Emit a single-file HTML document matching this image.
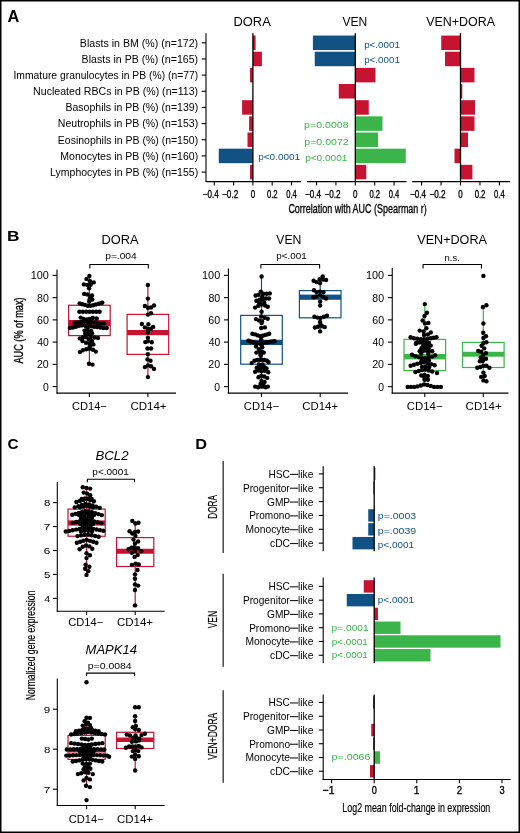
<!DOCTYPE html>
<html><head><meta charset="utf-8"><style>html,body{margin:0;padding:0;background:#fff}svg{display:block;will-change:transform}text{font-family:"Liberation Sans",sans-serif}</style></head>
<body><svg width="520" height="833" viewBox="0 0 520 833">
<rect x="0" y="0" width="520" height="833" fill="#fff"/>
<text x="7.44" y="21.65" font-size="15.6" font-weight="bold" textLength="11.79" lengthAdjust="spacingAndGlyphs">A</text>
<text x="233.44" y="26.3" font-size="12.5" textLength="37.34" lengthAdjust="spacingAndGlyphs">DORA</text>
<text x="342.45" y="26.3" font-size="12.5" textLength="24.79" lengthAdjust="spacingAndGlyphs">VEN</text>
<text x="426.2" y="26.3" font-size="12.5" textLength="68.83" lengthAdjust="spacingAndGlyphs">VEN+DORA</text>
<text x="79.83" y="46.6" font-size="10" textLength="118.33" lengthAdjust="spacingAndGlyphs">Blasts in BM (%) (n=172)</text>
<line x1="201.7" y1="42.8" x2="206" y2="42.8" stroke="#000" stroke-width="1.1"/>
<text x="81.63" y="62.76" font-size="10" textLength="116.53" lengthAdjust="spacingAndGlyphs">Blasts in PB (%) (n=165)</text>
<line x1="201.7" y1="58.96" x2="206" y2="58.96" stroke="#000" stroke-width="1.1"/>
<text x="13.45" y="78.92" font-size="10" textLength="184.69" lengthAdjust="spacingAndGlyphs">Immature granulocytes in PB (%) (n=77)</text>
<line x1="201.7" y1="75.12" x2="206" y2="75.12" stroke="#000" stroke-width="1.1"/>
<text x="33.13" y="95.08" font-size="10" textLength="165.02" lengthAdjust="spacingAndGlyphs">Nucleated RBCs in PB (%) (n=113)</text>
<line x1="201.7" y1="91.28" x2="206" y2="91.28" stroke="#000" stroke-width="1.1"/>
<text x="65.44" y="111.24" font-size="10" textLength="132.72" lengthAdjust="spacingAndGlyphs">Basophils in PB (%) (n=139)</text>
<line x1="201.7" y1="107.44" x2="206" y2="107.44" stroke="#000" stroke-width="1.1"/>
<text x="57.84" y="127.4" font-size="10" textLength="140.32" lengthAdjust="spacingAndGlyphs">Neutrophils in PB (%) (n=153)</text>
<line x1="201.7" y1="123.6" x2="206" y2="123.6" stroke="#000" stroke-width="1.1"/>
<text x="57.84" y="143.56" font-size="10" textLength="140.31" lengthAdjust="spacingAndGlyphs">Eosinophils in PB (%) (n=150)</text>
<line x1="201.7" y1="139.76" x2="206" y2="139.76" stroke="#000" stroke-width="1.1"/>
<text x="60.34" y="159.72" font-size="10" textLength="137.82" lengthAdjust="spacingAndGlyphs">Monocytes in PB (%) (n=160)</text>
<line x1="201.7" y1="155.92" x2="206" y2="155.92" stroke="#000" stroke-width="1.1"/>
<text x="50.14" y="175.88" font-size="10" textLength="148.01" lengthAdjust="spacingAndGlyphs">Lymphocytes in PB (%) (n=155)</text>
<line x1="201.7" y1="172.08" x2="206" y2="172.08" stroke="#000" stroke-width="1.1"/>
<line x1="206" y1="33.2" x2="206" y2="182.1" stroke="#000" stroke-width="1.1"/>
<rect x="252.9" y="35.55" width="2.7" height="14.5" fill="#c51331"/>
<rect x="252.9" y="51.71" width="9" height="14.5" fill="#c51331"/>
<rect x="250" y="67.87" width="2.9" height="14.5" fill="#c51331"/>
<rect x="242.1" y="100.19" width="10.8" height="14.5" fill="#c51331"/>
<rect x="249.1" y="116.35" width="3.8" height="14.5" fill="#c51331"/>
<rect x="247.5" y="132.51" width="5.4" height="14.5" fill="#c51331"/>
<rect x="218.75" y="148.67" width="34.15" height="14.5" fill="#125183"/>
<rect x="250" y="164.83" width="2.9" height="14.5" fill="#c51331"/>
<line x1="252.9" y1="33.2" x2="252.9" y2="181.6" stroke="#000" stroke-width="1.3"/>
<line x1="205.9" y1="181.6" x2="301" y2="181.6" stroke="#000" stroke-width="1.1"/>
<line x1="214.3" y1="181.6" x2="214.3" y2="185.4" stroke="#000" stroke-width="1.1"/>
<text x="202.8" y="197.6" font-size="10.6" textLength="15.93" lengthAdjust="spacingAndGlyphs" stroke="#000" stroke-width="0.35">−0.4</text>
<line x1="233.6" y1="181.6" x2="233.6" y2="185.4" stroke="#000" stroke-width="1.1"/>
<text x="222.1" y="197.6" font-size="10.6" textLength="16.11" lengthAdjust="spacingAndGlyphs" stroke="#000" stroke-width="0.35">−0.2</text>
<line x1="252.9" y1="181.6" x2="252.9" y2="185.4" stroke="#000" stroke-width="1.1"/>
<text x="250.69" y="197.6" font-size="10.6" textLength="4.42" lengthAdjust="spacingAndGlyphs" stroke="#000" stroke-width="0.35">0</text>
<line x1="272.2" y1="181.6" x2="272.2" y2="185.4" stroke="#000" stroke-width="1.1"/>
<text x="266.9" y="197.6" font-size="10.6" textLength="10.69" lengthAdjust="spacingAndGlyphs" stroke="#000" stroke-width="0.35">0.2</text>
<line x1="291.5" y1="181.6" x2="291.5" y2="185.4" stroke="#000" stroke-width="1.1"/>
<text x="286.2" y="197.6" font-size="10.6" textLength="10.52" lengthAdjust="spacingAndGlyphs" stroke="#000" stroke-width="0.35">0.4</text>
<rect x="312.9" y="35.55" width="42.4" height="14.5" fill="#125183"/>
<rect x="314.75" y="51.71" width="40.55" height="14.5" fill="#125183"/>
<rect x="355.3" y="67.87" width="20.2" height="14.5" fill="#c51331"/>
<rect x="338.75" y="84.03" width="16.55" height="14.5" fill="#c51331"/>
<rect x="355.3" y="100.19" width="13.45" height="14.5" fill="#c51331"/>
<rect x="355.3" y="116.35" width="27.2" height="14.5" fill="#3bb54a"/>
<rect x="355.3" y="132.51" width="22.7" height="14.5" fill="#3bb54a"/>
<rect x="355.3" y="148.67" width="50.45" height="14.5" fill="#3bb54a"/>
<rect x="355.3" y="164.83" width="10.95" height="14.5" fill="#c51331"/>
<line x1="355.3" y1="33.2" x2="355.3" y2="181.6" stroke="#000" stroke-width="1.3"/>
<line x1="306.9" y1="181.6" x2="406.5" y2="181.6" stroke="#000" stroke-width="1.1"/>
<line x1="316.54" y1="181.6" x2="316.54" y2="185.4" stroke="#000" stroke-width="1.1"/>
<text x="305.04" y="197.6" font-size="10.6" textLength="15.93" lengthAdjust="spacingAndGlyphs" stroke="#000" stroke-width="0.35">−0.4</text>
<line x1="335.92" y1="181.6" x2="335.92" y2="185.4" stroke="#000" stroke-width="1.1"/>
<text x="324.42" y="197.6" font-size="10.6" textLength="16.11" lengthAdjust="spacingAndGlyphs" stroke="#000" stroke-width="0.35">−0.2</text>
<line x1="355.3" y1="181.6" x2="355.3" y2="185.4" stroke="#000" stroke-width="1.1"/>
<text x="353.09" y="197.6" font-size="10.6" textLength="4.42" lengthAdjust="spacingAndGlyphs" stroke="#000" stroke-width="0.35">0</text>
<line x1="374.68" y1="181.6" x2="374.68" y2="185.4" stroke="#000" stroke-width="1.1"/>
<text x="369.38" y="197.6" font-size="10.6" textLength="10.69" lengthAdjust="spacingAndGlyphs" stroke="#000" stroke-width="0.35">0.2</text>
<line x1="394.06" y1="181.6" x2="394.06" y2="185.4" stroke="#000" stroke-width="1.1"/>
<text x="388.76" y="197.6" font-size="10.6" textLength="10.52" lengthAdjust="spacingAndGlyphs" stroke="#000" stroke-width="0.35">0.4</text>
<rect x="441.25" y="35.55" width="19.25" height="14.5" fill="#c51331"/>
<rect x="445" y="51.71" width="15.5" height="14.5" fill="#c51331"/>
<rect x="460.5" y="67.87" width="14" height="14.5" fill="#c51331"/>
<rect x="460.5" y="84.03" width="1.8" height="14.5" fill="#c51331"/>
<rect x="460.5" y="100.19" width="14.5" height="14.5" fill="#c51331"/>
<rect x="460.5" y="116.35" width="14" height="14.5" fill="#c51331"/>
<rect x="460.5" y="132.51" width="7.5" height="14.5" fill="#c51331"/>
<rect x="454.5" y="148.67" width="6" height="14.5" fill="#c51331"/>
<rect x="460.5" y="164.83" width="11.9" height="14.5" fill="#c51331"/>
<line x1="460.5" y1="33.2" x2="460.5" y2="181.6" stroke="#000" stroke-width="1.3"/>
<line x1="412.25" y1="181.6" x2="510.2" y2="181.6" stroke="#000" stroke-width="1.1"/>
<line x1="421.6" y1="181.6" x2="421.6" y2="185.4" stroke="#000" stroke-width="1.1"/>
<text x="410.1" y="197.6" font-size="10.6" textLength="15.93" lengthAdjust="spacingAndGlyphs" stroke="#000" stroke-width="0.35">−0.4</text>
<line x1="441.05" y1="181.6" x2="441.05" y2="185.4" stroke="#000" stroke-width="1.1"/>
<text x="429.55" y="197.6" font-size="10.6" textLength="16.11" lengthAdjust="spacingAndGlyphs" stroke="#000" stroke-width="0.35">−0.2</text>
<line x1="460.5" y1="181.6" x2="460.5" y2="185.4" stroke="#000" stroke-width="1.1"/>
<text x="458.29" y="197.6" font-size="10.6" textLength="4.42" lengthAdjust="spacingAndGlyphs" stroke="#000" stroke-width="0.35">0</text>
<line x1="479.95" y1="181.6" x2="479.95" y2="185.4" stroke="#000" stroke-width="1.1"/>
<text x="474.65" y="197.6" font-size="10.6" textLength="10.69" lengthAdjust="spacingAndGlyphs" stroke="#000" stroke-width="0.35">0.2</text>
<line x1="499.4" y1="181.6" x2="499.4" y2="185.4" stroke="#000" stroke-width="1.1"/>
<text x="494.1" y="197.6" font-size="10.6" textLength="10.52" lengthAdjust="spacingAndGlyphs" stroke="#000" stroke-width="0.35">0.4</text>
<text x="258.21" y="160.1" font-size="9.5" fill="#125183" textLength="41.98" lengthAdjust="spacingAndGlyphs">p&lt;0.0001</text>
<text x="364.17" y="47.7" font-size="9.5" fill="#125183" textLength="35.71" lengthAdjust="spacingAndGlyphs">p&lt;.0001</text>
<text x="364.17" y="62.6" font-size="9.5" fill="#125183" textLength="35.71" lengthAdjust="spacingAndGlyphs">p&lt;.0001</text>
<text x="304.12" y="127.6" font-size="9.5" fill="#3bb54a" textLength="44.44" lengthAdjust="spacingAndGlyphs">p=0.0008</text>
<text x="304.32" y="145.2" font-size="9.5" fill="#3bb54a" textLength="44.31" lengthAdjust="spacingAndGlyphs">p=0.0072</text>
<text x="305.15" y="160.9" font-size="9.5" fill="#3bb54a" textLength="42.24" lengthAdjust="spacingAndGlyphs">p&lt;0.0001</text>
<text x="288.4" y="213" font-size="13.5" textLength="138.36" lengthAdjust="spacingAndGlyphs" stroke="#000" stroke-width="0.35">Correlation with AUC (Spearman r)</text>
<text x="6.94" y="241.35" font-size="15.2" font-weight="bold" textLength="12.49" lengthAdjust="spacingAndGlyphs">B</text>
<text transform="translate(23.4,363.52) rotate(-90)" x="0" y="0" font-size="13" textLength="66.09" lengthAdjust="spacingAndGlyphs" stroke="#000" stroke-width="0.35">AUC (% of max)</text>
<line x1="57" y1="269.5" x2="57" y2="393.6" stroke="#000" stroke-width="1.1"/>
<line x1="56.45" y1="393.1" x2="176" y2="393.1" stroke="#000" stroke-width="1.1"/>
<line x1="52.6" y1="386.6" x2="57" y2="386.6" stroke="#000" stroke-width="1.1"/>
<text x="42.99" y="390.6" font-size="10.1" textLength="5.82" lengthAdjust="spacingAndGlyphs">0</text>
<line x1="52.6" y1="364.36" x2="57" y2="364.36" stroke="#000" stroke-width="1.1"/>
<text x="36.96" y="368.36" font-size="10.1" textLength="11.85" lengthAdjust="spacingAndGlyphs">20</text>
<line x1="52.6" y1="342.12" x2="57" y2="342.12" stroke="#000" stroke-width="1.1"/>
<text x="37.26" y="346.12" font-size="10.1" textLength="11.54" lengthAdjust="spacingAndGlyphs">40</text>
<line x1="52.6" y1="319.88" x2="57" y2="319.88" stroke="#000" stroke-width="1.1"/>
<text x="36.96" y="323.88" font-size="10.1" textLength="11.86" lengthAdjust="spacingAndGlyphs">60</text>
<line x1="52.6" y1="297.64" x2="57" y2="297.64" stroke="#000" stroke-width="1.1"/>
<text x="37.04" y="301.64" font-size="10.1" textLength="11.77" lengthAdjust="spacingAndGlyphs">80</text>
<line x1="52.6" y1="275.4" x2="57" y2="275.4" stroke="#000" stroke-width="1.1"/>
<text x="30.67" y="279.4" font-size="10.1" textLength="18.15" lengthAdjust="spacingAndGlyphs">100</text>
<line x1="89.4" y1="393.1" x2="89.4" y2="396.9" stroke="#000" stroke-width="1.1"/>
<text x="71.94" y="410.2" font-size="10.9" textLength="34.86" lengthAdjust="spacingAndGlyphs">CD14−</text>
<line x1="147.9" y1="393.1" x2="147.9" y2="396.9" stroke="#000" stroke-width="1.1"/>
<text x="130.42" y="410.2" font-size="10.9" textLength="36.15" lengthAdjust="spacingAndGlyphs">CD14+</text>
<line x1="89.4" y1="276.5" x2="89.4" y2="305.25" stroke="#c51331" stroke-width="1.2"/>
<line x1="89.4" y1="335.6" x2="89.4" y2="364" stroke="#c51331" stroke-width="1.2"/>
<rect x="68.6" y="305.25" width="41.6" height="30.35" fill="none" stroke="#c51331" stroke-width="1.2"/>
<rect x="68.6" y="320" width="41.6" height="6.2" fill="#c51331"/>
<line x1="147.9" y1="285" x2="147.9" y2="314.4" stroke="#c51331" stroke-width="1.2"/>
<line x1="147.9" y1="354.4" x2="147.9" y2="377.5" stroke="#c51331" stroke-width="1.2"/>
<rect x="127.1" y="314.4" width="41.6" height="40" fill="none" stroke="#c51331" stroke-width="1.2"/>
<rect x="127.1" y="330" width="41.6" height="5.2" fill="#c51331"/>
<text x="101.45" y="243.8" font-size="12.4" textLength="37.08" lengthAdjust="spacingAndGlyphs">DORA</text>
<text x="105.24" y="258.8" font-size="9.8" textLength="31.46" lengthAdjust="spacingAndGlyphs">p=.004</text>
<path d="M89.85 268.5V264.5H148.3V268.5" fill="none" stroke="#000" stroke-width="1.1"/>
<line x1="228.4" y1="268.5" x2="228.4" y2="393.6" stroke="#000" stroke-width="1.1"/>
<line x1="227.85" y1="393.1" x2="348.1" y2="393.1" stroke="#000" stroke-width="1.1"/>
<line x1="224" y1="386.6" x2="228.4" y2="386.6" stroke="#000" stroke-width="1.1"/>
<text x="214.39" y="390.6" font-size="10.1" textLength="5.82" lengthAdjust="spacingAndGlyphs">0</text>
<line x1="224" y1="364.36" x2="228.4" y2="364.36" stroke="#000" stroke-width="1.1"/>
<text x="208.36" y="368.36" font-size="10.1" textLength="11.85" lengthAdjust="spacingAndGlyphs">20</text>
<line x1="224" y1="342.12" x2="228.4" y2="342.12" stroke="#000" stroke-width="1.1"/>
<text x="208.66" y="346.12" font-size="10.1" textLength="11.54" lengthAdjust="spacingAndGlyphs">40</text>
<line x1="224" y1="319.88" x2="228.4" y2="319.88" stroke="#000" stroke-width="1.1"/>
<text x="208.36" y="323.88" font-size="10.1" textLength="11.86" lengthAdjust="spacingAndGlyphs">60</text>
<line x1="224" y1="297.64" x2="228.4" y2="297.64" stroke="#000" stroke-width="1.1"/>
<text x="208.44" y="301.64" font-size="10.1" textLength="11.77" lengthAdjust="spacingAndGlyphs">80</text>
<line x1="224" y1="275.4" x2="228.4" y2="275.4" stroke="#000" stroke-width="1.1"/>
<text x="202.07" y="279.4" font-size="10.1" textLength="18.15" lengthAdjust="spacingAndGlyphs">100</text>
<line x1="261.5" y1="393.1" x2="261.5" y2="396.9" stroke="#000" stroke-width="1.1"/>
<text x="243.83" y="410.2" font-size="10.9" textLength="35.22" lengthAdjust="spacingAndGlyphs">CD14−</text>
<line x1="320.2" y1="393.1" x2="320.2" y2="396.9" stroke="#000" stroke-width="1.1"/>
<text x="302.32" y="410.2" font-size="10.9" textLength="35.74" lengthAdjust="spacingAndGlyphs">CD14+</text>
<line x1="261.5" y1="276.5" x2="261.5" y2="315.4" stroke="#125183" stroke-width="1.2"/>
<line x1="261.5" y1="364.2" x2="261.5" y2="386.5" stroke="#125183" stroke-width="1.2"/>
<rect x="240.7" y="315.4" width="41.6" height="48.8" fill="none" stroke="#125183" stroke-width="1.2"/>
<rect x="240.7" y="339.75" width="41.6" height="5.25" fill="#125183"/>
<line x1="320.2" y1="280" x2="320.2" y2="290.6" stroke="#125183" stroke-width="1.2"/>
<line x1="320.2" y1="317.8" x2="320.2" y2="331.4" stroke="#125183" stroke-width="1.2"/>
<rect x="299.4" y="290.6" width="41.6" height="27.2" fill="none" stroke="#125183" stroke-width="1.2"/>
<rect x="299.4" y="294.6" width="41.6" height="5.2" fill="#125183"/>
<text x="276.25" y="243.8" font-size="12.4" textLength="25.15" lengthAdjust="spacingAndGlyphs">VEN</text>
<text x="276.26" y="258.8" font-size="9.8" textLength="30.42" lengthAdjust="spacingAndGlyphs">p&lt;.001</text>
<path d="M260.9 268.5V264.5H319.6V268.5" fill="none" stroke="#000" stroke-width="1.1"/>
<line x1="392.25" y1="268.1" x2="392.25" y2="393.6" stroke="#000" stroke-width="1.1"/>
<line x1="391.7" y1="393.1" x2="508.5" y2="393.1" stroke="#000" stroke-width="1.1"/>
<line x1="387.85" y1="386.6" x2="392.25" y2="386.6" stroke="#000" stroke-width="1.1"/>
<text x="378.24" y="390.6" font-size="10.1" textLength="5.82" lengthAdjust="spacingAndGlyphs">0</text>
<line x1="387.85" y1="364.36" x2="392.25" y2="364.36" stroke="#000" stroke-width="1.1"/>
<text x="372.21" y="368.36" font-size="10.1" textLength="11.85" lengthAdjust="spacingAndGlyphs">20</text>
<line x1="387.85" y1="342.12" x2="392.25" y2="342.12" stroke="#000" stroke-width="1.1"/>
<text x="372.51" y="346.12" font-size="10.1" textLength="11.54" lengthAdjust="spacingAndGlyphs">40</text>
<line x1="387.85" y1="319.88" x2="392.25" y2="319.88" stroke="#000" stroke-width="1.1"/>
<text x="372.21" y="323.88" font-size="10.1" textLength="11.86" lengthAdjust="spacingAndGlyphs">60</text>
<line x1="387.85" y1="297.64" x2="392.25" y2="297.64" stroke="#000" stroke-width="1.1"/>
<text x="372.29" y="301.64" font-size="10.1" textLength="11.77" lengthAdjust="spacingAndGlyphs">80</text>
<line x1="387.85" y1="275.4" x2="392.25" y2="275.4" stroke="#000" stroke-width="1.1"/>
<text x="365.92" y="279.4" font-size="10.1" textLength="18.15" lengthAdjust="spacingAndGlyphs">100</text>
<line x1="424.8" y1="393.1" x2="424.8" y2="396.9" stroke="#000" stroke-width="1.1"/>
<text x="406.82" y="410.2" font-size="10.9" textLength="35.73" lengthAdjust="spacingAndGlyphs">CD14−</text>
<line x1="483.3" y1="393.1" x2="483.3" y2="396.9" stroke="#000" stroke-width="1.1"/>
<text x="465.62" y="410.2" font-size="10.9" textLength="36.05" lengthAdjust="spacingAndGlyphs">CD14+</text>
<line x1="424.8" y1="304" x2="424.8" y2="339.4" stroke="#3bb54a" stroke-width="1.2"/>
<line x1="424.8" y1="370.6" x2="424.8" y2="386.3" stroke="#3bb54a" stroke-width="1.2"/>
<rect x="404" y="339.4" width="41.6" height="31.2" fill="none" stroke="#3bb54a" stroke-width="1.2"/>
<rect x="404" y="354" width="41.6" height="5.4" fill="#3bb54a"/>
<line x1="483.3" y1="307" x2="483.3" y2="342.4" stroke="#3bb54a" stroke-width="1.2"/>
<line x1="483.3" y1="367.5" x2="483.3" y2="381" stroke="#3bb54a" stroke-width="1.2"/>
<rect x="462.5" y="342.4" width="41.6" height="25.1" fill="none" stroke="#3bb54a" stroke-width="1.2"/>
<rect x="462.5" y="351.8" width="41.6" height="4.9" fill="#3bb54a"/>
<text x="417.24" y="243.8" font-size="12.4" textLength="69.68" lengthAdjust="spacingAndGlyphs">VEN+DORA</text>
<text x="444.57" y="260.6" font-size="9.8" textLength="15.3" lengthAdjust="spacingAndGlyphs">n.s.</text>
<path d="M423.1 268.5V264.5H481.5V268.5" fill="none" stroke="#000" stroke-width="1.1"/>
<text x="7.62" y="449.25" font-size="15.2" font-weight="bold" textLength="11.05" lengthAdjust="spacingAndGlyphs">C</text>
<text transform="translate(35.2,700.31) rotate(-90)" x="0" y="0" font-size="12.3" textLength="109.67" lengthAdjust="spacingAndGlyphs" stroke="#000" stroke-width="0.15">Normalized gene expression</text>
<text x="95.49" y="459.9" font-size="12" font-style="italic" textLength="33.1" lengthAdjust="spacingAndGlyphs">BCL2</text>
<text x="92.36" y="475.2" font-size="9.6" textLength="36.43" lengthAdjust="spacingAndGlyphs">p&lt;.0001</text>
<path d="M87.4 482.25V479.25H134.5V482.25" fill="none" stroke="#000" stroke-width="1.1"/>
<line x1="57.3" y1="481.9" x2="57.3" y2="611.8" stroke="#000" stroke-width="1.1"/>
<line x1="56.75" y1="611.25" x2="164.6" y2="611.25" stroke="#000" stroke-width="1.1"/>
<line x1="52.9" y1="598.4" x2="57.3" y2="598.4" stroke="#000" stroke-width="1.1"/>
<text x="44.16" y="601.7" font-size="9.4" textLength="5.9" lengthAdjust="spacingAndGlyphs">4</text>
<line x1="52.9" y1="574.45" x2="57.3" y2="574.45" stroke="#000" stroke-width="1.1"/>
<text x="43.95" y="577.75" font-size="9.4" textLength="6.28" lengthAdjust="spacingAndGlyphs">5</text>
<line x1="52.9" y1="550.5" x2="57.3" y2="550.5" stroke="#000" stroke-width="1.1"/>
<text x="43.81" y="553.8" font-size="9.4" textLength="6.45" lengthAdjust="spacingAndGlyphs">6</text>
<line x1="52.9" y1="526.55" x2="57.3" y2="526.55" stroke="#000" stroke-width="1.1"/>
<text x="43.8" y="529.85" font-size="9.4" textLength="6.55" lengthAdjust="spacingAndGlyphs">7</text>
<line x1="52.9" y1="502.6" x2="57.3" y2="502.6" stroke="#000" stroke-width="1.1"/>
<text x="43.9" y="505.9" font-size="9.4" textLength="6.34" lengthAdjust="spacingAndGlyphs">8</text>
<line x1="86.6" y1="487" x2="86.6" y2="509.1" stroke="#c51331" stroke-width="1.2"/>
<line x1="86.6" y1="536.25" x2="86.6" y2="575" stroke="#c51331" stroke-width="1.2"/>
<rect x="68" y="509.1" width="37.2" height="27.15" fill="none" stroke="#c51331" stroke-width="1.2"/>
<rect x="68" y="520.4" width="37.2" height="5.2" fill="#c51331"/>
<line x1="135.2" y1="521" x2="135.2" y2="537.6" stroke="#c51331" stroke-width="1.2"/>
<line x1="135.2" y1="566.5" x2="135.2" y2="605.4" stroke="#c51331" stroke-width="1.2"/>
<rect x="116.6" y="537.6" width="37.2" height="28.9" fill="none" stroke="#c51331" stroke-width="1.2"/>
<rect x="116.6" y="548.75" width="37.2" height="5" fill="#c51331"/>
<line x1="86.6" y1="611.25" x2="86.6" y2="615" stroke="#000" stroke-width="1.1"/>
<text x="68.19" y="626.3" font-size="10.4" textLength="34.86" lengthAdjust="spacingAndGlyphs">CD14−</text>
<line x1="135.2" y1="611.25" x2="135.2" y2="615" stroke="#000" stroke-width="1.1"/>
<text x="116.92" y="626.3" font-size="10.4" textLength="36.15" lengthAdjust="spacingAndGlyphs">CD14+</text>
<text x="85.6" y="654.1" font-size="12.2" font-style="italic" textLength="51.29" lengthAdjust="spacingAndGlyphs">MAPK14</text>
<text x="87.72" y="669" font-size="9.6" textLength="43.98" lengthAdjust="spacingAndGlyphs">p=0.0084</text>
<path d="M86.6 676.1V673.1H134.6V676.1" fill="none" stroke="#000" stroke-width="1.1"/>
<line x1="57.3" y1="678.5" x2="57.3" y2="806" stroke="#000" stroke-width="1.1"/>
<line x1="56.75" y1="805.5" x2="164.6" y2="805.5" stroke="#000" stroke-width="1.1"/>
<line x1="52.9" y1="789.2" x2="57.3" y2="789.2" stroke="#000" stroke-width="1.1"/>
<text x="43.8" y="792.5" font-size="9.4" textLength="6.55" lengthAdjust="spacingAndGlyphs">7</text>
<line x1="52.9" y1="749.2" x2="57.3" y2="749.2" stroke="#000" stroke-width="1.1"/>
<text x="43.9" y="752.5" font-size="9.4" textLength="6.34" lengthAdjust="spacingAndGlyphs">8</text>
<line x1="52.9" y1="709.2" x2="57.3" y2="709.2" stroke="#000" stroke-width="1.1"/>
<text x="43.86" y="712.5" font-size="9.4" textLength="6.44" lengthAdjust="spacingAndGlyphs">9</text>
<line x1="86.6" y1="717.7" x2="86.6" y2="735.4" stroke="#c51331" stroke-width="1.2"/>
<line x1="86.6" y1="759.4" x2="86.6" y2="787" stroke="#c51331" stroke-width="1.2"/>
<rect x="68" y="735.4" width="37.2" height="24" fill="none" stroke="#c51331" stroke-width="1.2"/>
<rect x="68" y="748.5" width="37.2" height="4" fill="#c51331"/>
<line x1="135.2" y1="716.2" x2="135.2" y2="732.3" stroke="#c51331" stroke-width="1.2"/>
<line x1="135.2" y1="748.5" x2="135.2" y2="770.5" stroke="#c51331" stroke-width="1.2"/>
<rect x="116.6" y="732.3" width="37.2" height="16.2" fill="none" stroke="#c51331" stroke-width="1.2"/>
<rect x="116.6" y="737.5" width="37.2" height="4.5" fill="#c51331"/>
<line x1="86.6" y1="805.5" x2="86.6" y2="809.3" stroke="#000" stroke-width="1.1"/>
<text x="68.69" y="822.5" font-size="10.4" textLength="34.86" lengthAdjust="spacingAndGlyphs">CD14−</text>
<line x1="135.2" y1="805.5" x2="135.2" y2="809.3" stroke="#000" stroke-width="1.1"/>
<text x="116.92" y="822.5" font-size="10.4" textLength="36.15" lengthAdjust="spacingAndGlyphs">CD14+</text>
<text x="195.16" y="448.75" font-size="15.2" font-weight="bold" textLength="11.78" lengthAdjust="spacingAndGlyphs">D</text>
<line x1="223.2" y1="461" x2="223.2" y2="553" stroke="#3a3a3a" stroke-width="1.4"/>
<text transform="translate(217.4,518.78) rotate(-90)" x="0" y="0" font-size="13.3" textLength="23.79" lengthAdjust="spacingAndGlyphs" stroke="#000" stroke-width="0.2">DORA</text>
<text x="268.46" y="477.8" font-size="11.4" textLength="21.52" lengthAdjust="spacingAndGlyphs">HSC</text>
<rect x="289.9" y="473.85" width="8.3" height="1" fill="#000"/>
<text x="298.01" y="477.8" font-size="11.4" textLength="15.34" lengthAdjust="spacingAndGlyphs">like</text>
<line x1="318.8" y1="473.9" x2="323.2" y2="473.9" stroke="#000" stroke-width="1.1"/>
<rect x="374.2" y="467.7" width="1.2" height="12.4" fill="#c51331"/>
<text x="242.92" y="491.65" font-size="11.4" textLength="46.85" lengthAdjust="spacingAndGlyphs">Progenitor</text>
<rect x="289.9" y="487.7" width="8.3" height="1" fill="#000"/>
<text x="298.01" y="491.65" font-size="11.4" textLength="15.34" lengthAdjust="spacingAndGlyphs">like</text>
<line x1="318.8" y1="487.75" x2="323.2" y2="487.75" stroke="#000" stroke-width="1.1"/>
<rect x="373.3" y="481.55" width="0.9" height="12.4" fill="#c51331"/>
<text x="266.99" y="505.5" font-size="11.4" textLength="23.15" lengthAdjust="spacingAndGlyphs">GMP</text>
<rect x="289.9" y="501.55" width="8.3" height="1" fill="#000"/>
<text x="298.01" y="505.5" font-size="11.4" textLength="15.34" lengthAdjust="spacingAndGlyphs">like</text>
<line x1="318.8" y1="501.6" x2="323.2" y2="501.6" stroke="#000" stroke-width="1.1"/>
<text x="249.17" y="519.35" font-size="11.4" textLength="40.85" lengthAdjust="spacingAndGlyphs">Promono</text>
<rect x="289.9" y="515.4" width="8.3" height="1" fill="#000"/>
<text x="298.01" y="519.35" font-size="11.4" textLength="15.34" lengthAdjust="spacingAndGlyphs">like</text>
<line x1="318.8" y1="515.45" x2="323.2" y2="515.45" stroke="#000" stroke-width="1.1"/>
<rect x="368.25" y="509.25" width="5.95" height="12.4" fill="#125183"/>
<text x="245.41" y="533.2" font-size="11.4" textLength="44.65" lengthAdjust="spacingAndGlyphs">Monocyte</text>
<rect x="289.9" y="529.25" width="8.3" height="1" fill="#000"/>
<text x="298.01" y="533.2" font-size="11.4" textLength="15.34" lengthAdjust="spacingAndGlyphs">like</text>
<line x1="318.8" y1="529.3" x2="323.2" y2="529.3" stroke="#000" stroke-width="1.1"/>
<rect x="368.25" y="523.1" width="5.95" height="12.4" fill="#125183"/>
<text x="270.06" y="547.05" font-size="11.4" textLength="19.93" lengthAdjust="spacingAndGlyphs">cDC</text>
<rect x="289.9" y="543.1" width="8.3" height="1" fill="#000"/>
<text x="298.01" y="547.05" font-size="11.4" textLength="15.34" lengthAdjust="spacingAndGlyphs">like</text>
<line x1="318.8" y1="543.15" x2="323.2" y2="543.15" stroke="#000" stroke-width="1.1"/>
<rect x="352.5" y="536.95" width="21.7" height="12.4" fill="#125183"/>
<line x1="323.2" y1="466.25" x2="323.2" y2="551.25" stroke="#000" stroke-width="1.1"/>
<line x1="374.2" y1="466.25" x2="374.2" y2="551.25" stroke="#000" stroke-width="1.3"/>
<line x1="223.2" y1="573.75" x2="223.2" y2="666.7" stroke="#3a3a3a" stroke-width="1.4"/>
<text transform="translate(217.4,628.34) rotate(-90)" x="0" y="0" font-size="13.3" textLength="17.43" lengthAdjust="spacingAndGlyphs" stroke="#000" stroke-width="0.2">VEN</text>
<text x="268.46" y="590.3" font-size="11.4" textLength="21.52" lengthAdjust="spacingAndGlyphs">HSC</text>
<rect x="289.9" y="586.35" width="8.3" height="1" fill="#000"/>
<text x="298.01" y="590.3" font-size="11.4" textLength="15.34" lengthAdjust="spacingAndGlyphs">like</text>
<line x1="318.8" y1="586.4" x2="323.2" y2="586.4" stroke="#000" stroke-width="1.1"/>
<rect x="363.75" y="580.2" width="10.45" height="12.4" fill="#c51331"/>
<text x="242.92" y="604.07" font-size="11.4" textLength="46.85" lengthAdjust="spacingAndGlyphs">Progenitor</text>
<rect x="289.9" y="600.12" width="8.3" height="1" fill="#000"/>
<text x="298.01" y="604.07" font-size="11.4" textLength="15.34" lengthAdjust="spacingAndGlyphs">like</text>
<line x1="318.8" y1="600.17" x2="323.2" y2="600.17" stroke="#000" stroke-width="1.1"/>
<rect x="346.75" y="593.97" width="27.45" height="12.4" fill="#125183"/>
<text x="266.99" y="617.84" font-size="11.4" textLength="23.15" lengthAdjust="spacingAndGlyphs">GMP</text>
<rect x="289.9" y="613.89" width="8.3" height="1" fill="#000"/>
<text x="298.01" y="617.84" font-size="11.4" textLength="15.34" lengthAdjust="spacingAndGlyphs">like</text>
<line x1="318.8" y1="613.94" x2="323.2" y2="613.94" stroke="#000" stroke-width="1.1"/>
<rect x="374.2" y="607.74" width="3.8" height="12.4" fill="#c51331"/>
<text x="249.17" y="631.61" font-size="11.4" textLength="40.85" lengthAdjust="spacingAndGlyphs">Promono</text>
<rect x="289.9" y="627.66" width="8.3" height="1" fill="#000"/>
<text x="298.01" y="631.61" font-size="11.4" textLength="15.34" lengthAdjust="spacingAndGlyphs">like</text>
<line x1="318.8" y1="627.71" x2="323.2" y2="627.71" stroke="#000" stroke-width="1.1"/>
<rect x="374.2" y="621.51" width="26.3" height="12.4" fill="#3bb54a"/>
<text x="245.41" y="645.38" font-size="11.4" textLength="44.65" lengthAdjust="spacingAndGlyphs">Monocyte</text>
<rect x="289.9" y="641.43" width="8.3" height="1" fill="#000"/>
<text x="298.01" y="645.38" font-size="11.4" textLength="15.34" lengthAdjust="spacingAndGlyphs">like</text>
<line x1="318.8" y1="641.48" x2="323.2" y2="641.48" stroke="#000" stroke-width="1.1"/>
<rect x="374.2" y="635.28" width="126.3" height="12.4" fill="#3bb54a"/>
<text x="270.06" y="659.15" font-size="11.4" textLength="19.93" lengthAdjust="spacingAndGlyphs">cDC</text>
<rect x="289.9" y="655.2" width="8.3" height="1" fill="#000"/>
<text x="298.01" y="659.15" font-size="11.4" textLength="15.34" lengthAdjust="spacingAndGlyphs">like</text>
<line x1="318.8" y1="655.25" x2="323.2" y2="655.25" stroke="#000" stroke-width="1.1"/>
<rect x="374.2" y="649.05" width="56.3" height="12.4" fill="#3bb54a"/>
<line x1="323.2" y1="577.5" x2="323.2" y2="663" stroke="#000" stroke-width="1.1"/>
<line x1="374.2" y1="577.5" x2="374.2" y2="663" stroke="#000" stroke-width="1.3"/>
<line x1="223.2" y1="690.2" x2="223.2" y2="782.7" stroke="#3a3a3a" stroke-width="1.4"/>
<text transform="translate(217.4,759.74) rotate(-90)" x="0" y="0" font-size="13.3" textLength="46.95" lengthAdjust="spacingAndGlyphs" stroke="#000" stroke-width="0.2">VEN+DORA</text>
<text x="268.46" y="706.4" font-size="11.4" textLength="21.52" lengthAdjust="spacingAndGlyphs">HSC</text>
<rect x="289.9" y="702.45" width="8.3" height="1" fill="#000"/>
<text x="298.01" y="706.4" font-size="11.4" textLength="15.34" lengthAdjust="spacingAndGlyphs">like</text>
<line x1="318.8" y1="702.5" x2="323.2" y2="702.5" stroke="#000" stroke-width="1.1"/>
<rect x="373" y="696.3" width="1.2" height="12.4" fill="#c51331"/>
<text x="242.92" y="720.15" font-size="11.4" textLength="46.85" lengthAdjust="spacingAndGlyphs">Progenitor</text>
<rect x="289.9" y="716.2" width="8.3" height="1" fill="#000"/>
<text x="298.01" y="720.15" font-size="11.4" textLength="15.34" lengthAdjust="spacingAndGlyphs">like</text>
<line x1="318.8" y1="716.25" x2="323.2" y2="716.25" stroke="#000" stroke-width="1.1"/>
<text x="266.99" y="733.9" font-size="11.4" textLength="23.15" lengthAdjust="spacingAndGlyphs">GMP</text>
<rect x="289.9" y="729.95" width="8.3" height="1" fill="#000"/>
<text x="298.01" y="733.9" font-size="11.4" textLength="15.34" lengthAdjust="spacingAndGlyphs">like</text>
<line x1="318.8" y1="730" x2="323.2" y2="730" stroke="#000" stroke-width="1.1"/>
<rect x="371.25" y="723.8" width="2.95" height="12.4" fill="#c51331"/>
<text x="249.17" y="747.65" font-size="11.4" textLength="40.85" lengthAdjust="spacingAndGlyphs">Promono</text>
<rect x="289.9" y="743.7" width="8.3" height="1" fill="#000"/>
<text x="298.01" y="747.65" font-size="11.4" textLength="15.34" lengthAdjust="spacingAndGlyphs">like</text>
<line x1="318.8" y1="743.75" x2="323.2" y2="743.75" stroke="#000" stroke-width="1.1"/>
<rect x="373" y="737.55" width="1.2" height="12.4" fill="#c51331"/>
<text x="245.41" y="761.4" font-size="11.4" textLength="44.65" lengthAdjust="spacingAndGlyphs">Monocyte</text>
<rect x="289.9" y="757.45" width="8.3" height="1" fill="#000"/>
<text x="298.01" y="761.4" font-size="11.4" textLength="15.34" lengthAdjust="spacingAndGlyphs">like</text>
<line x1="318.8" y1="757.5" x2="323.2" y2="757.5" stroke="#000" stroke-width="1.1"/>
<rect x="374.2" y="751.3" width="5.8" height="12.4" fill="#3bb54a"/>
<text x="270.06" y="775.15" font-size="11.4" textLength="19.93" lengthAdjust="spacingAndGlyphs">cDC</text>
<rect x="289.9" y="771.2" width="8.3" height="1" fill="#000"/>
<text x="298.01" y="775.15" font-size="11.4" textLength="15.34" lengthAdjust="spacingAndGlyphs">like</text>
<line x1="318.8" y1="771.25" x2="323.2" y2="771.25" stroke="#000" stroke-width="1.1"/>
<rect x="370" y="765.05" width="4.2" height="12.4" fill="#c51331"/>
<line x1="323.2" y1="694.5" x2="323.2" y2="780" stroke="#000" stroke-width="1.1"/>
<line x1="374.2" y1="694.5" x2="374.2" y2="779.5" stroke="#000" stroke-width="1.3"/>
<text x="377.82" y="519.3" font-size="9.6" fill="#125183" textLength="38.34" lengthAdjust="spacingAndGlyphs">p=.0003</text>
<text x="377.82" y="534" font-size="9.6" fill="#125183" textLength="38.38" lengthAdjust="spacingAndGlyphs">p=.0039</text>
<text x="377.86" y="548.2" font-size="9.6" fill="#125183" textLength="36.12" lengthAdjust="spacingAndGlyphs">p&lt;.0001</text>
<text x="377.86" y="603.4" font-size="9.6" fill="#125183" textLength="36.12" lengthAdjust="spacingAndGlyphs">p&lt;.0001</text>
<text x="331.64" y="631.4" font-size="9.6" fill="#3bb54a" textLength="37.05" lengthAdjust="spacingAndGlyphs">p=.0001</text>
<text x="331.66" y="644.5" font-size="9.6" fill="#3bb54a" textLength="36.23" lengthAdjust="spacingAndGlyphs">p&lt;.0001</text>
<text x="331.66" y="658.25" font-size="9.6" fill="#3bb54a" textLength="36.23" lengthAdjust="spacingAndGlyphs">p&lt;.0001</text>
<text x="331.61" y="760.1" font-size="9.6" fill="#3bb54a" textLength="38.86" lengthAdjust="spacingAndGlyphs">p=.0066</text>
<line x1="322.65" y1="779.5" x2="510.7" y2="779.5" stroke="#000" stroke-width="1.1"/>
<line x1="331.6" y1="779.5" x2="331.6" y2="783.3" stroke="#000" stroke-width="1.1"/>
<text x="322.58" y="794.3" font-size="11" textLength="11.93" lengthAdjust="spacingAndGlyphs" stroke="#000" stroke-width="0.35">−1</text>
<line x1="374.2" y1="779.5" x2="374.2" y2="783.3" stroke="#000" stroke-width="1.1"/>
<text x="371.64" y="794.3" font-size="11" textLength="5.12" lengthAdjust="spacingAndGlyphs" stroke="#000" stroke-width="0.35">0</text>
<line x1="416.8" y1="779.5" x2="416.8" y2="783.3" stroke="#000" stroke-width="1.1"/>
<text x="413.82" y="794.3" font-size="11" textLength="5.68" lengthAdjust="spacingAndGlyphs" stroke="#000" stroke-width="0.35">1</text>
<line x1="459.4" y1="779.5" x2="459.4" y2="783.3" stroke="#000" stroke-width="1.1"/>
<text x="456.71" y="794.3" font-size="11" textLength="5.37" lengthAdjust="spacingAndGlyphs" stroke="#000" stroke-width="0.35">2</text>
<line x1="502" y1="779.5" x2="502" y2="783.3" stroke="#000" stroke-width="1.1"/>
<text x="499.45" y="794.3" font-size="11" textLength="5.16" lengthAdjust="spacingAndGlyphs" stroke="#000" stroke-width="0.35">3</text>
<text x="342.37" y="811.5" font-size="13.5" textLength="147.9" lengthAdjust="spacingAndGlyphs" stroke="#000" stroke-width="0.2">Log2 mean fold-change in expression</text>
<circle cx="89.4" cy="276" r="2.2"/>
<circle cx="86.5" cy="278.9" r="2.2"/>
<circle cx="90" cy="281.2" r="2.2"/>
<circle cx="93.75" cy="282.4" r="2.2"/>
<circle cx="83.9" cy="284.4" r="2.2"/>
<circle cx="87.4" cy="285" r="2.2"/>
<circle cx="90.6" cy="284.7" r="2.2"/>
<circle cx="89.1" cy="288.2" r="2.2"/>
<circle cx="84.2" cy="293.9" r="2.2"/>
<circle cx="87.4" cy="294.5" r="2.2"/>
<circle cx="92" cy="295.4" r="2.2"/>
<circle cx="90.3" cy="297.4" r="2.2"/>
<circle cx="89.6" cy="299.4" r="2.2"/>
<circle cx="92.3" cy="299.5" r="2.2"/>
<circle cx="89.2" cy="301.5" r="2.2"/>
<circle cx="79.6" cy="303.4" r="2.2"/>
<circle cx="82.3" cy="304.2" r="2.2"/>
<circle cx="85" cy="304.9" r="2.2"/>
<circle cx="87.7" cy="305.7" r="2.2"/>
<circle cx="90.4" cy="305.7" r="2.2"/>
<circle cx="93.1" cy="305.3" r="2.2"/>
<circle cx="95.8" cy="304.5" r="2.2"/>
<circle cx="98.5" cy="303.8" r="2.2"/>
<circle cx="101.2" cy="303" r="2.2"/>
<circle cx="102.3" cy="302.6" r="2.2"/>
<circle cx="79.4" cy="311.7" r="2.2"/>
<circle cx="82.8" cy="311.7" r="2.2"/>
<circle cx="86.2" cy="311.7" r="2.2"/>
<circle cx="89.5" cy="311.7" r="2.2"/>
<circle cx="92.9" cy="311.7" r="2.2"/>
<circle cx="96.3" cy="311.7" r="2.2"/>
<circle cx="99.6" cy="311.7" r="2.2"/>
<circle cx="80.7" cy="317.6" r="2.2"/>
<circle cx="83.7" cy="318.9" r="2.2"/>
<circle cx="87" cy="319.4" r="2.2"/>
<circle cx="89.8" cy="319" r="2.2"/>
<circle cx="92.8" cy="318" r="2.2"/>
<circle cx="96.7" cy="318.5" r="2.2"/>
<circle cx="74.7" cy="322.8" r="2.2"/>
<circle cx="77.7" cy="322.4" r="2.2"/>
<circle cx="81.1" cy="322" r="2.2"/>
<circle cx="84.6" cy="321.5" r="2.2"/>
<circle cx="88.1" cy="321.9" r="2.2"/>
<circle cx="91.1" cy="321.9" r="2.2"/>
<circle cx="94.5" cy="322.4" r="2.2"/>
<circle cx="97.6" cy="323.2" r="2.2"/>
<circle cx="100.6" cy="323.7" r="2.2"/>
<circle cx="104.1" cy="323.2" r="2.2"/>
<circle cx="69.9" cy="328" r="2.2"/>
<circle cx="72.9" cy="327.5" r="2.2"/>
<circle cx="75.9" cy="326.7" r="2.2"/>
<circle cx="79" cy="325.8" r="2.2"/>
<circle cx="82" cy="325.4" r="2.2"/>
<circle cx="85.9" cy="326.2" r="2.2"/>
<circle cx="88.9" cy="325.4" r="2.2"/>
<circle cx="91.1" cy="326.2" r="2.2"/>
<circle cx="94.1" cy="326.7" r="2.2"/>
<circle cx="97.1" cy="327.1" r="2.2"/>
<circle cx="100.2" cy="327.5" r="2.2"/>
<circle cx="103.2" cy="328" r="2.2"/>
<circle cx="106.7" cy="328" r="2.2"/>
<circle cx="87.6" cy="328.8" r="2.2"/>
<circle cx="84.6" cy="330.6" r="2.2"/>
<circle cx="87.6" cy="331.4" r="2.2"/>
<circle cx="91.1" cy="331" r="2.2"/>
<circle cx="92" cy="333.2" r="2.2"/>
<circle cx="88.5" cy="334.2" r="2.2"/>
<circle cx="85.2" cy="333.5" r="2.2"/>
<circle cx="79.8" cy="338.4" r="2.2"/>
<circle cx="82.9" cy="337.5" r="2.2"/>
<circle cx="85.9" cy="337.1" r="2.2"/>
<circle cx="90.7" cy="337.1" r="2.2"/>
<circle cx="94.5" cy="337.5" r="2.2"/>
<circle cx="98" cy="338" r="2.2"/>
<circle cx="82.4" cy="341" r="2.2"/>
<circle cx="88.9" cy="339.2" r="2.2"/>
<circle cx="92" cy="341" r="2.2"/>
<circle cx="89.4" cy="343.5" r="2.2"/>
<circle cx="86" cy="342.8" r="2.2"/>
<circle cx="90.5" cy="345" r="2.2"/>
<circle cx="93.4" cy="344.4" r="2.2"/>
<circle cx="89.5" cy="347.3" r="2.2"/>
<circle cx="79.9" cy="352.1" r="2.2"/>
<circle cx="82.8" cy="350.2" r="2.2"/>
<circle cx="86.2" cy="349.2" r="2.2"/>
<circle cx="89.5" cy="348.75" r="2.2"/>
<circle cx="92.9" cy="349.7" r="2.2"/>
<circle cx="95.8" cy="351.6" r="2.2"/>
<circle cx="89" cy="363.7" r="2.2"/>
<circle cx="92.4" cy="364.6" r="2.2"/>
<circle cx="147.9" cy="285" r="2.2"/>
<circle cx="147.9" cy="298.6" r="2.2"/>
<circle cx="144.9" cy="306" r="2.2"/>
<circle cx="147.9" cy="307.7" r="2.2"/>
<circle cx="151" cy="307.5" r="2.2"/>
<circle cx="154" cy="305.5" r="2.2"/>
<circle cx="147.9" cy="314.6" r="2.2"/>
<circle cx="151" cy="313.3" r="2.2"/>
<circle cx="141.9" cy="324" r="2.2"/>
<circle cx="144.9" cy="327.4" r="2.2"/>
<circle cx="148.4" cy="324.3" r="2.2"/>
<circle cx="147.9" cy="328.7" r="2.2"/>
<circle cx="151" cy="328.7" r="2.2"/>
<circle cx="153.1" cy="326.9" r="2.2"/>
<circle cx="147.9" cy="332.5" r="2.2"/>
<circle cx="147.9" cy="337.7" r="2.2"/>
<circle cx="145.3" cy="342.1" r="2.2"/>
<circle cx="147.9" cy="341.2" r="2.2"/>
<circle cx="151.8" cy="342.3" r="2.2"/>
<circle cx="147.5" cy="348.5" r="2.2"/>
<circle cx="151" cy="348.5" r="2.2"/>
<circle cx="147.9" cy="354.2" r="2.2"/>
<circle cx="147.5" cy="359.4" r="2.2"/>
<circle cx="150.5" cy="360.7" r="2.2"/>
<circle cx="144.9" cy="367.1" r="2.2"/>
<circle cx="147.9" cy="365.4" r="2.2"/>
<circle cx="151" cy="366.3" r="2.2"/>
<circle cx="154" cy="368.9" r="2.2"/>
<circle cx="147.9" cy="377.1" r="2.2"/>
<circle cx="424.8" cy="304.1" r="2.2"/>
<circle cx="426.9" cy="312.8" r="2.2"/>
<circle cx="424.5" cy="316" r="2.2"/>
<circle cx="422.6" cy="320.5" r="2.2"/>
<circle cx="425" cy="323.4" r="2.2"/>
<circle cx="428.4" cy="322.9" r="2.2"/>
<circle cx="426.4" cy="328.2" r="2.2"/>
<circle cx="419.7" cy="330.6" r="2.2"/>
<circle cx="423.6" cy="331.5" r="2.2"/>
<circle cx="430.8" cy="332.5" r="2.2"/>
<circle cx="427.9" cy="334.4" r="2.2"/>
<circle cx="424" cy="334.9" r="2.2"/>
<circle cx="410.6" cy="337.3" r="2.2"/>
<circle cx="413.9" cy="338.3" r="2.2"/>
<circle cx="417.3" cy="338.75" r="2.2"/>
<circle cx="420.7" cy="339.2" r="2.2"/>
<circle cx="424" cy="339.2" r="2.2"/>
<circle cx="427.4" cy="338.75" r="2.2"/>
<circle cx="430.8" cy="338.3" r="2.2"/>
<circle cx="433.7" cy="337.8" r="2.2"/>
<circle cx="436.5" cy="337.3" r="2.2"/>
<circle cx="416.3" cy="342.6" r="2.2"/>
<circle cx="419.2" cy="342.6" r="2.2"/>
<circle cx="425.5" cy="342.1" r="2.2"/>
<circle cx="428.8" cy="342.6" r="2.2"/>
<circle cx="415.9" cy="343.7" r="2.2"/>
<circle cx="422.6" cy="342.7" r="2.2"/>
<circle cx="428.8" cy="344.1" r="2.2"/>
<circle cx="430.8" cy="345.6" r="2.2"/>
<circle cx="423.1" cy="346.1" r="2.2"/>
<circle cx="426" cy="345.6" r="2.2"/>
<circle cx="419.7" cy="351.3" r="2.2"/>
<circle cx="423.1" cy="350.9" r="2.2"/>
<circle cx="426" cy="350.5" r="2.2"/>
<circle cx="428.8" cy="350.9" r="2.2"/>
<circle cx="432.2" cy="351.3" r="2.2"/>
<circle cx="412" cy="354.7" r="2.2"/>
<circle cx="415.4" cy="356.2" r="2.2"/>
<circle cx="418.75" cy="357.1" r="2.2"/>
<circle cx="422.1" cy="358.1" r="2.2"/>
<circle cx="425.5" cy="358.1" r="2.2"/>
<circle cx="428.8" cy="357.6" r="2.2"/>
<circle cx="432.2" cy="356.6" r="2.2"/>
<circle cx="435.1" cy="355.2" r="2.2"/>
<circle cx="425.5" cy="361" r="2.2"/>
<circle cx="421.6" cy="360.4" r="2.2"/>
<circle cx="428.9" cy="360.6" r="2.2"/>
<circle cx="421.5" cy="348.2" r="2.2"/>
<circle cx="425" cy="347.8" r="2.2"/>
<circle cx="428.5" cy="348.3" r="2.2"/>
<circle cx="421.2" cy="353.6" r="2.2"/>
<circle cx="428.2" cy="353.8" r="2.2"/>
<circle cx="422" cy="367" r="2.2"/>
<circle cx="425.5" cy="366.4" r="2.2"/>
<circle cx="429" cy="367.2" r="2.2"/>
<circle cx="421.3" cy="375.5" r="2.2"/>
<circle cx="427.8" cy="376" r="2.2"/>
<circle cx="410.6" cy="365.8" r="2.2"/>
<circle cx="413.9" cy="364.8" r="2.2"/>
<circle cx="417.3" cy="363.8" r="2.2"/>
<circle cx="420.7" cy="362.9" r="2.2"/>
<circle cx="424" cy="362.4" r="2.2"/>
<circle cx="427.9" cy="363.4" r="2.2"/>
<circle cx="431.25" cy="364.3" r="2.2"/>
<circle cx="434.6" cy="365.3" r="2.2"/>
<circle cx="415.4" cy="372" r="2.2"/>
<circle cx="418.75" cy="371" r="2.2"/>
<circle cx="422.1" cy="370.1" r="2.2"/>
<circle cx="425.5" cy="369.6" r="2.2"/>
<circle cx="428.8" cy="370.6" r="2.2"/>
<circle cx="432.2" cy="371.5" r="2.2"/>
<circle cx="437" cy="373" r="2.2"/>
<circle cx="424.5" cy="374.9" r="2.2"/>
<circle cx="424.5" cy="377.3" r="2.2"/>
<circle cx="424.5" cy="379.7" r="2.2"/>
<circle cx="427.9" cy="379.7" r="2.2"/>
<circle cx="407.7" cy="386.9" r="2.2"/>
<circle cx="410.9" cy="386.9" r="2.2"/>
<circle cx="414.2" cy="386.9" r="2.2"/>
<circle cx="417.5" cy="386.4" r="2.2"/>
<circle cx="420.8" cy="385.5" r="2.2"/>
<circle cx="424" cy="384.5" r="2.2"/>
<circle cx="427.4" cy="385" r="2.2"/>
<circle cx="430.8" cy="385.9" r="2.2"/>
<circle cx="434.1" cy="386.9" r="2.2"/>
<circle cx="437.5" cy="386.9" r="2.2"/>
<circle cx="440.9" cy="386.9" r="2.2"/>
<circle cx="483.4" cy="275.9" r="2.2"/>
<circle cx="482.9" cy="307" r="2.2"/>
<circle cx="486.4" cy="305.3" r="2.2"/>
<circle cx="483.4" cy="323.5" r="2.2"/>
<circle cx="483.2" cy="332.8" r="2.2"/>
<circle cx="486" cy="336.2" r="2.2"/>
<circle cx="483.4" cy="338" r="2.2"/>
<circle cx="486.4" cy="342.3" r="2.2"/>
<circle cx="483.4" cy="343.2" r="2.2"/>
<circle cx="481.6" cy="345.8" r="2.2"/>
<circle cx="484.2" cy="348.4" r="2.2"/>
<circle cx="478.2" cy="351" r="2.2"/>
<circle cx="481.2" cy="351.8" r="2.2"/>
<circle cx="486" cy="353.1" r="2.2"/>
<circle cx="483.4" cy="354.8" r="2.2"/>
<circle cx="480.8" cy="357.4" r="2.2"/>
<circle cx="486" cy="358.7" r="2.2"/>
<circle cx="483.4" cy="359.2" r="2.2"/>
<circle cx="479.9" cy="361.3" r="2.2"/>
<circle cx="482.5" cy="361.3" r="2.2"/>
<circle cx="477.3" cy="367.8" r="2.2"/>
<circle cx="480.3" cy="367" r="2.2"/>
<circle cx="483.4" cy="365.7" r="2.2"/>
<circle cx="486.4" cy="365.7" r="2.2"/>
<circle cx="489.4" cy="367.8" r="2.2"/>
<circle cx="483.4" cy="372.6" r="2.2"/>
<circle cx="481.2" cy="376.9" r="2.2"/>
<circle cx="484.7" cy="376" r="2.2"/>
<circle cx="483.4" cy="380.4" r="2.2"/>
<circle cx="486.4" cy="381.2" r="2.2"/>
<circle cx="261.6" cy="276.5" r="2.2"/>
<circle cx="260.8" cy="291.6" r="2.2"/>
<circle cx="255.6" cy="295.5" r="2.2"/>
<circle cx="258.6" cy="294.7" r="2.2"/>
<circle cx="263.4" cy="293.8" r="2.2"/>
<circle cx="266.8" cy="293.8" r="2.2"/>
<circle cx="269.8" cy="293.4" r="2.2"/>
<circle cx="256.4" cy="300.7" r="2.2"/>
<circle cx="259.5" cy="299.8" r="2.2"/>
<circle cx="262.9" cy="299.4" r="2.2"/>
<circle cx="266" cy="298.5" r="2.2"/>
<circle cx="269" cy="298.5" r="2.2"/>
<circle cx="255.1" cy="307.6" r="2.2"/>
<circle cx="258.2" cy="305.9" r="2.2"/>
<circle cx="261.6" cy="304.6" r="2.2"/>
<circle cx="265.1" cy="305.5" r="2.2"/>
<circle cx="267.7" cy="306.8" r="2.2"/>
<circle cx="262.2" cy="296.6" r="2.2"/>
<circle cx="259" cy="302.6" r="2.2"/>
<circle cx="264.2" cy="302.4" r="2.2"/>
<circle cx="261.6" cy="311.7" r="2.2"/>
<circle cx="261.2" cy="316.5" r="2.2"/>
<circle cx="256" cy="319.1" r="2.2"/>
<circle cx="259" cy="320.4" r="2.2"/>
<circle cx="262" cy="321.2" r="2.2"/>
<circle cx="264.7" cy="317.8" r="2.2"/>
<circle cx="267.7" cy="318.7" r="2.2"/>
<circle cx="261.6" cy="323" r="2.2"/>
<circle cx="261.2" cy="328" r="2.2"/>
<circle cx="264.9" cy="327.4" r="2.2"/>
<circle cx="252.4" cy="333.7" r="2.2"/>
<circle cx="255.1" cy="334.4" r="2.2"/>
<circle cx="257.8" cy="335.4" r="2.2"/>
<circle cx="260.1" cy="336.1" r="2.2"/>
<circle cx="262.5" cy="335.8" r="2.2"/>
<circle cx="264.9" cy="335.1" r="2.2"/>
<circle cx="267.2" cy="334.4" r="2.2"/>
<circle cx="269.2" cy="333.7" r="2.2"/>
<circle cx="261.2" cy="339.5" r="2.2"/>
<circle cx="248.4" cy="340.8" r="2.2"/>
<circle cx="250.7" cy="341.5" r="2.2"/>
<circle cx="253.1" cy="342.2" r="2.2"/>
<circle cx="255.4" cy="342.8" r="2.2"/>
<circle cx="258.1" cy="343.2" r="2.2"/>
<circle cx="260.7" cy="343" r="2.2"/>
<circle cx="263.2" cy="342.8" r="2.2"/>
<circle cx="265.5" cy="342.5" r="2.2"/>
<circle cx="267.9" cy="342.2" r="2.2"/>
<circle cx="270.2" cy="341.8" r="2.2"/>
<circle cx="272.6" cy="341.5" r="2.2"/>
<circle cx="274.6" cy="341.2" r="2.2"/>
<circle cx="256.1" cy="346.5" r="2.2"/>
<circle cx="262.2" cy="347.2" r="2.2"/>
<circle cx="261.5" cy="345.2" r="2.2"/>
<circle cx="259" cy="349.3" r="2.2"/>
<circle cx="256.4" cy="352.6" r="2.2"/>
<circle cx="259.2" cy="351.8" r="2.2"/>
<circle cx="261.8" cy="351.6" r="2.2"/>
<circle cx="263.8" cy="352.6" r="2.2"/>
<circle cx="260.5" cy="354.6" r="2.2"/>
<circle cx="260.8" cy="355.7" r="2.2"/>
<circle cx="251.7" cy="363.1" r="2.2"/>
<circle cx="254.4" cy="360.7" r="2.2"/>
<circle cx="257.1" cy="360" r="2.2"/>
<circle cx="259.5" cy="359.7" r="2.2"/>
<circle cx="261.8" cy="359.7" r="2.2"/>
<circle cx="264.5" cy="360" r="2.2"/>
<circle cx="266.9" cy="360.7" r="2.2"/>
<circle cx="268.6" cy="362.1" r="2.2"/>
<circle cx="256.8" cy="367.8" r="2.2"/>
<circle cx="259.1" cy="367.4" r="2.2"/>
<circle cx="261.5" cy="367.8" r="2.2"/>
<circle cx="264.5" cy="367.1" r="2.2"/>
<circle cx="266.5" cy="368.5" r="2.2"/>
<circle cx="262.5" cy="364.5" r="2.2"/>
<circle cx="259" cy="364.5" r="2.2"/>
<circle cx="255.1" cy="371.8" r="2.2"/>
<circle cx="258" cy="370.5" r="2.2"/>
<circle cx="261.2" cy="371.2" r="2.2"/>
<circle cx="264.5" cy="370.8" r="2.2"/>
<circle cx="268.2" cy="372.2" r="2.2"/>
<circle cx="258.5" cy="377.2" r="2.2"/>
<circle cx="261.2" cy="375.9" r="2.2"/>
<circle cx="264.2" cy="376.5" r="2.2"/>
<circle cx="267.2" cy="377.9" r="2.2"/>
<circle cx="261.5" cy="380.9" r="2.2"/>
<circle cx="264.5" cy="381.9" r="2.2"/>
<circle cx="260.5" cy="383.9" r="2.2"/>
<circle cx="263.5" cy="383.9" r="2.2"/>
<circle cx="255.1" cy="386.6" r="2.2"/>
<circle cx="258.1" cy="387.3" r="2.2"/>
<circle cx="261" cy="386.6" r="2.2"/>
<circle cx="263.2" cy="386.6" r="2.2"/>
<circle cx="265.6" cy="387.3" r="2.2"/>
<circle cx="267.9" cy="386.6" r="2.2"/>
<circle cx="322.7" cy="276.5" r="2.2"/>
<circle cx="319.6" cy="279.1" r="2.2"/>
<circle cx="323.1" cy="279.5" r="2.2"/>
<circle cx="326.1" cy="280" r="2.2"/>
<circle cx="313.6" cy="280.8" r="2.2"/>
<circle cx="316.6" cy="282.1" r="2.2"/>
<circle cx="320.1" cy="283" r="2.2"/>
<circle cx="314" cy="290.3" r="2.2"/>
<circle cx="316.6" cy="292.1" r="2.2"/>
<circle cx="320.1" cy="291.6" r="2.2"/>
<circle cx="323.5" cy="292.1" r="2.2"/>
<circle cx="313.6" cy="297.2" r="2.2"/>
<circle cx="316.6" cy="296.4" r="2.2"/>
<circle cx="320.1" cy="295.1" r="2.2"/>
<circle cx="323.1" cy="296.8" r="2.2"/>
<circle cx="326.1" cy="298.5" r="2.2"/>
<circle cx="320.1" cy="301.6" r="2.2"/>
<circle cx="320.1" cy="305.5" r="2.2"/>
<circle cx="314.4" cy="316.7" r="2.2"/>
<circle cx="317.5" cy="317.6" r="2.2"/>
<circle cx="320.5" cy="318" r="2.2"/>
<circle cx="324" cy="316.7" r="2.2"/>
<circle cx="327" cy="315.8" r="2.2"/>
<circle cx="320.1" cy="321.9" r="2.2"/>
<circle cx="320.5" cy="324.5" r="2.2"/>
<circle cx="314.9" cy="327.5" r="2.2"/>
<circle cx="317.9" cy="326.7" r="2.2"/>
<circle cx="322.2" cy="326.2" r="2.2"/>
<circle cx="324.8" cy="327.1" r="2.2"/>
<circle cx="320.1" cy="331.4" r="2.2"/>
<circle cx="82.75" cy="487.3" r="2.2"/>
<circle cx="86.4" cy="488" r="2.2"/>
<circle cx="90.2" cy="488.6" r="2.2"/>
<circle cx="83.8" cy="492.6" r="2.2"/>
<circle cx="87" cy="493.6" r="2.2"/>
<circle cx="90.2" cy="495.2" r="2.2"/>
<circle cx="81.7" cy="498.88" r="2.2"/>
<circle cx="85.03" cy="498.48" r="2.2"/>
<circle cx="88.37" cy="498.52" r="2.2"/>
<circle cx="91.7" cy="498.92" r="2.2"/>
<circle cx="76.4" cy="502.03" r="2.2"/>
<circle cx="79.9" cy="500.98" r="2.2"/>
<circle cx="83.4" cy="499.93" r="2.2"/>
<circle cx="86.9" cy="499.12" r="2.2"/>
<circle cx="90.4" cy="500.17" r="2.2"/>
<circle cx="93.9" cy="501.22" r="2.2"/>
<circle cx="74.8" cy="507.36" r="2.2"/>
<circle cx="78.36" cy="506.19" r="2.2"/>
<circle cx="81.91" cy="505.01" r="2.2"/>
<circle cx="85.47" cy="503.84" r="2.2"/>
<circle cx="89.03" cy="504.33" r="2.2"/>
<circle cx="92.59" cy="505.51" r="2.2"/>
<circle cx="96.14" cy="506.68" r="2.2"/>
<circle cx="99.7" cy="507.86" r="2.2"/>
<circle cx="80" cy="507.3" r="2.2"/>
<circle cx="83.25" cy="506.65" r="2.2"/>
<circle cx="86.5" cy="506" r="2.2"/>
<circle cx="89.75" cy="506.65" r="2.2"/>
<circle cx="93" cy="507.3" r="2.2"/>
<circle cx="72.2" cy="514.8" r="2.2"/>
<circle cx="75.49" cy="513.88" r="2.2"/>
<circle cx="78.78" cy="512.96" r="2.2"/>
<circle cx="82.07" cy="512.04" r="2.2"/>
<circle cx="85.36" cy="511.12" r="2.2"/>
<circle cx="88.64" cy="511.4" r="2.2"/>
<circle cx="91.93" cy="512.32" r="2.2"/>
<circle cx="95.22" cy="513.24" r="2.2"/>
<circle cx="98.51" cy="514.16" r="2.2"/>
<circle cx="101.8" cy="515.08" r="2.2"/>
<circle cx="79" cy="515" r="2.2"/>
<circle cx="82.75" cy="514.25" r="2.2"/>
<circle cx="86.5" cy="513.5" r="2.2"/>
<circle cx="90.25" cy="514.25" r="2.2"/>
<circle cx="94" cy="515" r="2.2"/>
<circle cx="81" cy="517.7" r="2.2"/>
<circle cx="84.67" cy="516.97" r="2.2"/>
<circle cx="88.33" cy="516.97" r="2.2"/>
<circle cx="92" cy="517.7" r="2.2"/>
<circle cx="72.7" cy="522.91" r="2.2"/>
<circle cx="76.28" cy="522.05" r="2.2"/>
<circle cx="79.85" cy="521.2" r="2.2"/>
<circle cx="83.42" cy="520.34" r="2.2"/>
<circle cx="87" cy="519.72" r="2.2"/>
<circle cx="90.58" cy="520.58" r="2.2"/>
<circle cx="94.15" cy="521.44" r="2.2"/>
<circle cx="97.72" cy="522.29" r="2.2"/>
<circle cx="101.3" cy="523.15" r="2.2"/>
<circle cx="80" cy="523.8" r="2.2"/>
<circle cx="83.25" cy="523.15" r="2.2"/>
<circle cx="86.5" cy="522.5" r="2.2"/>
<circle cx="89.75" cy="523.15" r="2.2"/>
<circle cx="93" cy="523.8" r="2.2"/>
<circle cx="82.5" cy="526" r="2.2"/>
<circle cx="86.5" cy="525.2" r="2.2"/>
<circle cx="90.5" cy="526" r="2.2"/>
<circle cx="65.8" cy="531.53" r="2.2"/>
<circle cx="69.22" cy="530.88" r="2.2"/>
<circle cx="72.64" cy="530.23" r="2.2"/>
<circle cx="76.05" cy="529.58" r="2.2"/>
<circle cx="79.47" cy="528.94" r="2.2"/>
<circle cx="82.89" cy="528.29" r="2.2"/>
<circle cx="86.31" cy="527.64" r="2.2"/>
<circle cx="89.73" cy="528.21" r="2.2"/>
<circle cx="93.15" cy="528.86" r="2.2"/>
<circle cx="96.56" cy="529.51" r="2.2"/>
<circle cx="99.98" cy="530.16" r="2.2"/>
<circle cx="103.4" cy="530.81" r="2.2"/>
<circle cx="81" cy="531.6" r="2.2"/>
<circle cx="84.67" cy="530.87" r="2.2"/>
<circle cx="88.33" cy="530.87" r="2.2"/>
<circle cx="92" cy="531.6" r="2.2"/>
<circle cx="77.5" cy="536.1" r="2.2"/>
<circle cx="81.02" cy="535.4" r="2.2"/>
<circle cx="84.53" cy="534.69" r="2.2"/>
<circle cx="88.05" cy="534.61" r="2.2"/>
<circle cx="91.57" cy="535.31" r="2.2"/>
<circle cx="95.08" cy="536.02" r="2.2"/>
<circle cx="98.6" cy="536.72" r="2.2"/>
<circle cx="76.9" cy="542.68" r="2.2"/>
<circle cx="80.17" cy="541.7" r="2.2"/>
<circle cx="83.43" cy="540.72" r="2.2"/>
<circle cx="86.7" cy="539.86" r="2.2"/>
<circle cx="89.97" cy="540.84" r="2.2"/>
<circle cx="93.23" cy="541.82" r="2.2"/>
<circle cx="96.5" cy="542.8" r="2.2"/>
<circle cx="79.6" cy="549.2" r="2.2"/>
<circle cx="82.7" cy="546.8" r="2.2"/>
<circle cx="86" cy="545.5" r="2.2"/>
<circle cx="89.4" cy="546.4" r="2.2"/>
<circle cx="92.3" cy="548.7" r="2.2"/>
<circle cx="86.5" cy="553.3" r="2.2"/>
<circle cx="89.9" cy="555.2" r="2.2"/>
<circle cx="86.5" cy="558.1" r="2.2"/>
<circle cx="85.6" cy="564.8" r="2.2"/>
<circle cx="89.4" cy="566.7" r="2.2"/>
<circle cx="85.1" cy="568.7" r="2.2"/>
<circle cx="88.4" cy="571.1" r="2.2"/>
<circle cx="86.5" cy="574.9" r="2.2"/>
<circle cx="132.3" cy="521" r="2.2"/>
<circle cx="135.4" cy="523.5" r="2.2"/>
<circle cx="138.5" cy="522.7" r="2.2"/>
<circle cx="129.6" cy="531.2" r="2.2"/>
<circle cx="132.3" cy="533.5" r="2.2"/>
<circle cx="135" cy="531.9" r="2.2"/>
<circle cx="138.1" cy="531.5" r="2.2"/>
<circle cx="135.4" cy="535.8" r="2.2"/>
<circle cx="133.5" cy="539.6" r="2.2"/>
<circle cx="138.1" cy="541.5" r="2.2"/>
<circle cx="135" cy="543.5" r="2.2"/>
<circle cx="128.5" cy="549.2" r="2.2"/>
<circle cx="131.5" cy="547.7" r="2.2"/>
<circle cx="134.6" cy="547.3" r="2.2"/>
<circle cx="138.1" cy="548.1" r="2.2"/>
<circle cx="141.2" cy="551.2" r="2.2"/>
<circle cx="131.9" cy="552.7" r="2.2"/>
<circle cx="135" cy="551" r="2.2"/>
<circle cx="137.7" cy="555" r="2.2"/>
<circle cx="134.6" cy="556.9" r="2.2"/>
<circle cx="131.9" cy="565" r="2.2"/>
<circle cx="135.6" cy="563.75" r="2.2"/>
<circle cx="138.75" cy="564.4" r="2.2"/>
<circle cx="137.5" cy="570" r="2.2"/>
<circle cx="135" cy="574.4" r="2.2"/>
<circle cx="135" cy="578.75" r="2.2"/>
<circle cx="135" cy="584.4" r="2.2"/>
<circle cx="138.1" cy="585.6" r="2.2"/>
<circle cx="135" cy="590" r="2.2"/>
<circle cx="135" cy="605.4" r="2.2"/>
<circle cx="86.5" cy="682.2" r="2.2"/>
<circle cx="86.5" cy="717.7" r="2.2"/>
<circle cx="89.9" cy="717.9" r="2.2"/>
<circle cx="84.6" cy="721.25" r="2.2"/>
<circle cx="88" cy="722.7" r="2.2"/>
<circle cx="82.7" cy="725.6" r="2.2"/>
<circle cx="86" cy="724.6" r="2.2"/>
<circle cx="89.9" cy="725.1" r="2.2"/>
<circle cx="84.1" cy="728.5" r="2.2"/>
<circle cx="87.5" cy="729" r="2.2"/>
<circle cx="91" cy="728" r="2.2"/>
<circle cx="75.9" cy="731.13" r="2.2"/>
<circle cx="79.14" cy="730.58" r="2.2"/>
<circle cx="82.39" cy="730.03" r="2.2"/>
<circle cx="85.63" cy="729.48" r="2.2"/>
<circle cx="88.87" cy="729.48" r="2.2"/>
<circle cx="92.11" cy="730.03" r="2.2"/>
<circle cx="95.36" cy="730.58" r="2.2"/>
<circle cx="98.6" cy="731.13" r="2.2"/>
<circle cx="71.1" cy="734.54" r="2.2"/>
<circle cx="74.49" cy="734.03" r="2.2"/>
<circle cx="77.88" cy="733.53" r="2.2"/>
<circle cx="81.27" cy="733.02" r="2.2"/>
<circle cx="84.66" cy="732.51" r="2.2"/>
<circle cx="88.05" cy="732" r="2.2"/>
<circle cx="91.44" cy="732.51" r="2.2"/>
<circle cx="94.83" cy="733.02" r="2.2"/>
<circle cx="98.22" cy="733.53" r="2.2"/>
<circle cx="101.61" cy="734.03" r="2.2"/>
<circle cx="105" cy="734.54" r="2.2"/>
<circle cx="85.1" cy="739" r="2.2"/>
<circle cx="88.4" cy="739.5" r="2.2"/>
<circle cx="81.8" cy="738.6" r="2.2"/>
<circle cx="91.8" cy="738.6" r="2.2"/>
<circle cx="71.1" cy="743.17" r="2.2"/>
<circle cx="74.57" cy="743.62" r="2.2"/>
<circle cx="78.03" cy="744.07" r="2.2"/>
<circle cx="81.5" cy="744.52" r="2.2"/>
<circle cx="84.97" cy="744.97" r="2.2"/>
<circle cx="88.43" cy="744.97" r="2.2"/>
<circle cx="91.9" cy="744.52" r="2.2"/>
<circle cx="95.37" cy="744.07" r="2.2"/>
<circle cx="98.83" cy="743.62" r="2.2"/>
<circle cx="102.3" cy="743.17" r="2.2"/>
<circle cx="83.5" cy="746" r="2.2"/>
<circle cx="86.8" cy="746.2" r="2.2"/>
<circle cx="90.1" cy="746" r="2.2"/>
<circle cx="66.8" cy="749.55" r="2.2"/>
<circle cx="70.21" cy="749.41" r="2.2"/>
<circle cx="73.62" cy="749.28" r="2.2"/>
<circle cx="77.03" cy="749.14" r="2.2"/>
<circle cx="80.44" cy="749" r="2.2"/>
<circle cx="83.85" cy="748.87" r="2.2"/>
<circle cx="87.25" cy="748.87" r="2.2"/>
<circle cx="90.66" cy="749" r="2.2"/>
<circle cx="94.07" cy="749.14" r="2.2"/>
<circle cx="97.48" cy="749.28" r="2.2"/>
<circle cx="100.89" cy="749.41" r="2.2"/>
<circle cx="104.3" cy="749.55" r="2.2"/>
<circle cx="80" cy="751.6" r="2.2"/>
<circle cx="83.4" cy="751.8" r="2.2"/>
<circle cx="86.8" cy="751.9" r="2.2"/>
<circle cx="90.2" cy="751.8" r="2.2"/>
<circle cx="93.6" cy="751.6" r="2.2"/>
<circle cx="66.3" cy="755.62" r="2.2"/>
<circle cx="69.69" cy="755.45" r="2.2"/>
<circle cx="73.08" cy="755.28" r="2.2"/>
<circle cx="76.47" cy="755.11" r="2.2"/>
<circle cx="79.87" cy="754.94" r="2.2"/>
<circle cx="83.26" cy="754.77" r="2.2"/>
<circle cx="86.65" cy="754.6" r="2.2"/>
<circle cx="90.04" cy="754.77" r="2.2"/>
<circle cx="93.43" cy="754.94" r="2.2"/>
<circle cx="96.83" cy="755.11" r="2.2"/>
<circle cx="100.22" cy="755.28" r="2.2"/>
<circle cx="103.61" cy="755.45" r="2.2"/>
<circle cx="107" cy="755.62" r="2.2"/>
<circle cx="109.1" cy="756.8" r="2.2"/>
<circle cx="83.5" cy="757.8" r="2.2"/>
<circle cx="86.9" cy="757.9" r="2.2"/>
<circle cx="90.3" cy="757.8" r="2.2"/>
<circle cx="72.7" cy="761.52" r="2.2"/>
<circle cx="75.99" cy="760.96" r="2.2"/>
<circle cx="79.28" cy="760.4" r="2.2"/>
<circle cx="82.57" cy="759.84" r="2.2"/>
<circle cx="85.86" cy="759.28" r="2.2"/>
<circle cx="89.14" cy="759.28" r="2.2"/>
<circle cx="92.43" cy="759.84" r="2.2"/>
<circle cx="95.72" cy="760.4" r="2.2"/>
<circle cx="99.01" cy="760.96" r="2.2"/>
<circle cx="102.3" cy="761.52" r="2.2"/>
<circle cx="82.7" cy="763.6" r="2.2"/>
<circle cx="86.3" cy="764" r="2.2"/>
<circle cx="89.9" cy="763.6" r="2.2"/>
<circle cx="83.6" cy="769.3" r="2.2"/>
<circle cx="87" cy="769.8" r="2.2"/>
<circle cx="90.4" cy="768.8" r="2.2"/>
<circle cx="85" cy="766.5" r="2.2"/>
<circle cx="88.5" cy="766.8" r="2.2"/>
<circle cx="77.9" cy="774.1" r="2.2"/>
<circle cx="81.2" cy="773.2" r="2.2"/>
<circle cx="85.1" cy="772.2" r="2.2"/>
<circle cx="88.4" cy="772.7" r="2.2"/>
<circle cx="92.8" cy="774.1" r="2.2"/>
<circle cx="86.5" cy="778" r="2.2"/>
<circle cx="83.6" cy="780.4" r="2.2"/>
<circle cx="89.9" cy="779.4" r="2.2"/>
<circle cx="86" cy="785.7" r="2.2"/>
<circle cx="89.9" cy="787.1" r="2.2"/>
<circle cx="86.5" cy="800.1" r="2.2"/>
<circle cx="135.1" cy="707.2" r="2.2"/>
<circle cx="138.8" cy="707.2" r="2.2"/>
<circle cx="135.1" cy="716.2" r="2.2"/>
<circle cx="135.1" cy="721" r="2.2"/>
<circle cx="132.8" cy="727.2" r="2.2"/>
<circle cx="136" cy="725.9" r="2.2"/>
<circle cx="135.1" cy="729.1" r="2.2"/>
<circle cx="138.8" cy="730" r="2.2"/>
<circle cx="126.8" cy="734.6" r="2.2"/>
<circle cx="130" cy="735.5" r="2.2"/>
<circle cx="135.5" cy="735.5" r="2.2"/>
<circle cx="141.5" cy="735.1" r="2.2"/>
<circle cx="144.8" cy="733.7" r="2.2"/>
<circle cx="133.2" cy="737.9" r="2.2"/>
<circle cx="136.4" cy="738" r="2.2"/>
<circle cx="139.2" cy="738.8" r="2.2"/>
<circle cx="131.9" cy="741.8" r="2.2"/>
<circle cx="136" cy="741.4" r="2.2"/>
<circle cx="138.8" cy="740.5" r="2.2"/>
<circle cx="125.9" cy="747.8" r="2.2"/>
<circle cx="129.1" cy="746.5" r="2.2"/>
<circle cx="132.3" cy="746.5" r="2.2"/>
<circle cx="135.5" cy="746.5" r="2.2"/>
<circle cx="138.8" cy="746" r="2.2"/>
<circle cx="141.5" cy="747.4" r="2.2"/>
<circle cx="132.8" cy="751.1" r="2.2"/>
<circle cx="135.5" cy="750.2" r="2.2"/>
<circle cx="138.3" cy="751.1" r="2.2"/>
<circle cx="131.9" cy="756.6" r="2.2"/>
<circle cx="135.1" cy="754.8" r="2.2"/>
<circle cx="138.8" cy="756.2" r="2.2"/>
<circle cx="135.1" cy="758.9" r="2.2"/>
<circle cx="135.1" cy="770.5" r="2.2"/>
<rect x="0.75" y="0.75" width="518.5" height="831.5" fill="none" stroke="#000" stroke-width="1.5"/>
</svg></body></html>
